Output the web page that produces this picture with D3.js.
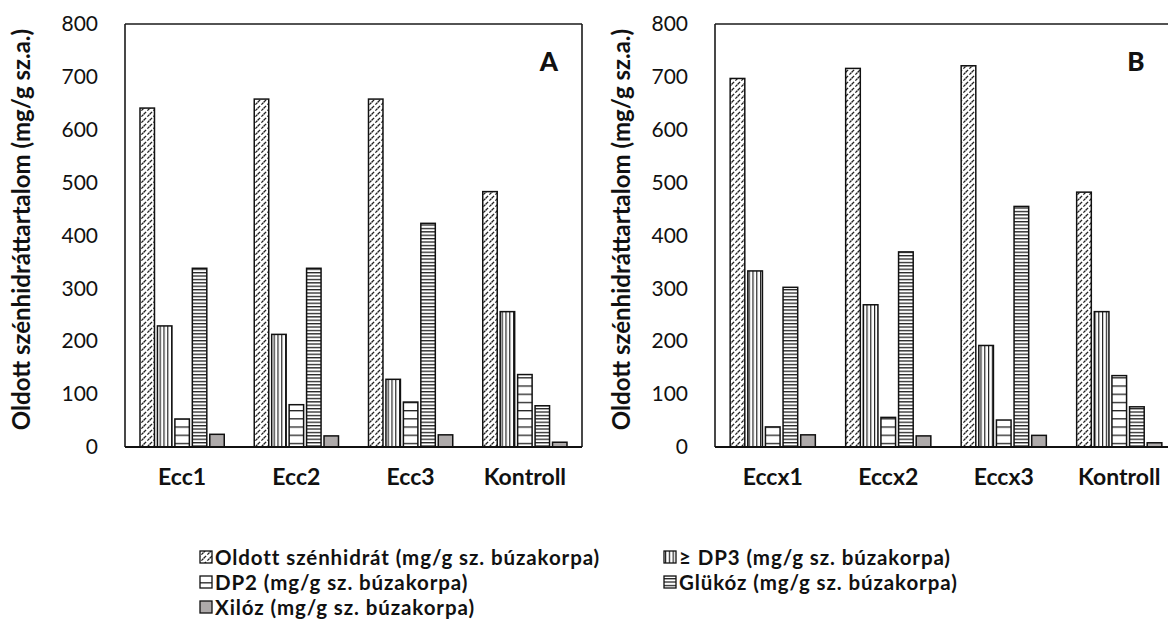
<!DOCTYPE html>
<html><head><meta charset="utf-8">
<script src="https://cdn.jsdelivr.net/npm/d3@7"></script>
<style>
html,body{margin:0;padding:0;background:#fff;}
svg{display:block;font-family:Lato,"Open Sans",sans-serif;}
</style></head>
<body><svg id="chart" width="1168" height="619"></svg>
<script>
// ---- data ----
const categoriesA = ["Ecc1", "Ecc2", "Ecc3", "Kontroll"];
const categoriesB = ["Eccx1", "Eccx2", "Eccx3", "Kontroll"];
const seriesNames = [
  "Oldott szénhidrát (mg/g sz. búzakorpa)",
  "≥ DP3 (mg/g sz. búzakorpa)",
  "DP2 (mg/g sz. búzakorpa)",
  "Glükóz (mg/g sz. búzakorpa)",
  "Xilóz (mg/g sz. búzakorpa)"
];
const oldottA  = [641, 658, 658, 483];
const dp3A     = [229, 213, 128, 256];
const dp2A     = [53, 80, 85, 137];
const glukozA  = [338, 338, 423, 78];
const xilozA   = [24, 21, 23, 9];
const oldottB  = [697, 716, 721, 482];
const dp3B     = [333, 269, 192, 256];
const dp2B     = [38, 56, 51, 135];
const glukozB  = [302, 369, 455, 76];
const xilozB   = [23, 21, 22, 8];
const yTicks   = [0, 100, 200, 300, 400, 500, 600, 700, 800];
const yTitle   = "Oldott szénhidráttartalom (mg/g sz.a.)";

const svg = d3.select("#chart");
const defs = svg.append("defs");

// patterns
function pat(id, w, h, draw, bg) {
  const p = defs.append("pattern").attr("id", id).attr("patternUnits", "userSpaceOnUse")
    .attr("width", w).attr("height", h);
  p.append("rect").attr("width", w).attr("height", h).attr("fill", bg || "#fff");
  draw(p);
}
pat("pDiag", 6, 6, p => {
  p.append("path").attr("d", "M0,6 L6,0 M-1,1 L1,-1 M5,7 L7,5")
    .attr("stroke", "#222").attr("stroke-width", 1.3).attr("stroke-dasharray", "3,1.8");
});
pat("pVert", 3.8, 4, p => {
  p.append("rect").attr("x", 0).attr("y", 0).attr("width", 1.2).attr("height", 4).attr("fill", "#222");
});
pat("pHorizWide", 4, 8.2, p => {
  p.append("rect").attr("x", 0).attr("y", 0).attr("width", 4).attr("height", 1.3).attr("fill", "#222");
});
pat("pHorizNarrow", 4, 3.4, p => {
  p.append("rect").attr("x", 0).attr("y", 0).attr("width", 4).attr("height", 1.3).attr("fill", "#222");
});
const fills = ["url(#pDiag)", "url(#pVert)", "url(#pHorizWide)", "url(#pHorizNarrow)", "#aeaaaa"];

function panel(cfg) {
  const { left, right, top, bottom, cats, series, letter, letterX, titleX, clipRight } = cfg;
  const g = svg.append("g");
  const y = d3.scaleLinear().domain([0, 800]).range([bottom, top]);
  const x0 = d3.scaleBand().domain(cats).range([left, right]).paddingInner(0).paddingOuter(0);
  const x1 = d3.scaleBand().domain(d3.range(series.length)).range([0, x0.bandwidth()])
    .paddingInner(0.17).paddingOuter(0.86);

  // frame
  const frame = g.append("g");
  frame.append("line").attr("x1", left).attr("x2", left).attr("y1", top).attr("y2", bottom)
    .attr("stroke", "#1a1a1a").attr("stroke-width", 1.6);
  frame.append("line").attr("x1", left).attr("x2", right).attr("y1", top).attr("y2", top)
    .attr("stroke", "#1a1a1a").attr("stroke-width", 1.6);
  if (!clipRight) frame.append("line").attr("x1", right).attr("x2", right).attr("y1", top).attr("y2", bottom)
    .attr("stroke", "#1a1a1a").attr("stroke-width", 1.6);

  // bars
  series.forEach((vals, si) => {
    g.append("g").selectAll("rect").data(vals).join("rect")
      .attr("x", (d, i) => x0(cats[i]) + x1(si))
      .attr("y", d => y(d))
      .attr("width", x1.bandwidth())
      .attr("height", d => y(0) - y(d))
      .attr("fill", fills[si])
      .attr("stroke", "#111").attr("stroke-width", 1.5);
  });

  // x axis line
  g.append("line").attr("x1", left).attr("x2", right).attr("y1", bottom).attr("y2", bottom)
    .attr("stroke", "#111").attr("stroke-width", 2);

  // y axis labels
  const ya = d3.axisLeft(y).tickValues(yTicks).tickSize(0).tickPadding(27);
  const yg = g.append("g").attr("transform", `translate(${left},0)`).call(ya);
  yg.select(".domain").remove();
  yg.selectAll("text").attr("font-family", "Lato").attr("font-size", 21).attr("fill", "#111");

  // x axis labels
  const xa = d3.axisBottom(x0).tickSize(0).tickPadding(22);
  const xg = g.append("g").attr("transform", `translate(0,${bottom})`).call(xa);
  xg.select(".domain").remove();
  xg.selectAll("text").attr("font-family", "Lato").attr("font-size", 23).attr("font-weight", "bold").attr("fill", "#111");

  // y title
  g.append("text").attr("transform", `translate(${titleX},${(top + bottom) / 2 - 6}) rotate(-90)`)
    .attr("text-anchor", "middle").attr("dominant-baseline", "central")
    .attr("font-family", "Lato").attr("font-weight", "bold").attr("font-size", 24).attr("fill", "#111")
    .text(yTitle);

  // panel letter
  g.append("text").attr("x", letterX).attr("y", 71).attr("text-anchor", "middle")
    .attr("font-family", "Lato").attr("font-weight", "900").attr("font-size", 26).attr("fill", "#111")
    .text(letter);
}

panel({ left: 125, right: 582, top: 24, bottom: 447, cats: categoriesA,
  series: [oldottA, dp3A, dp2A, glukozA, xilozA], letter: "A", letterX: 549, titleX: 20 });
panel({ left: 715, right: 1177, top: 24, bottom: 447, cats: categoriesB,
  series: [oldottB, dp3B, dp2B, glukozB, xilozB], letter: "B", letterX: 1136, titleX: 620, clipRight: true });

// legend
const legendPos = [[200, 557], [664, 557], [200, 582], [664, 582], [200, 607]];
const lg = svg.append("g");
seriesNames.forEach((name, i) => {
  const [lx, ly] = legendPos[i];
  lg.append("rect").attr("x", lx).attr("y", ly - 6).attr("width", 12).attr("height", 12)
    .attr("fill", fills[i]).attr("stroke", "#111").attr("stroke-width", 1.3);
  lg.append("text").attr("x", lx + 15).attr("y", ly).attr("dominant-baseline", "central")
    .attr("font-family", "Lato").attr("font-weight", "bold").attr("font-size", 20.5)
    .attr("letter-spacing", 0.9).attr("fill", "#111")
    .text(name);
});
</script></body></html>
